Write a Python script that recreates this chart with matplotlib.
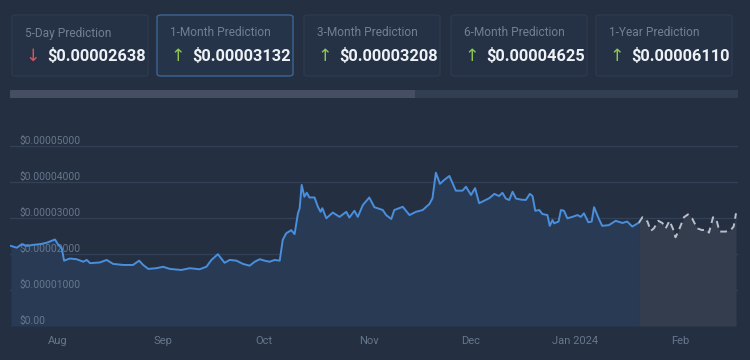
import numpy as np
import matplotlib
matplotlib.use("Agg")
import matplotlib.pyplot as plt
import matplotlib.dates as mdates
from matplotlib.patches import FancyBboxPatch, Rectangle

# ---------------- data ----------------
card_titles = ["5-Day Prediction", "1-Month Prediction", "3-Month Prediction",
               "6-Month Prediction", "1-Year Prediction"]
card_values = ["$0.00002638", "$0.00003132", "$0.00003208", "$0.00004625", "$0.00006110"]
card_up = [False, True, True, True, True]

base_date = "2023-08-01"
# days relative to 2023-08-01, prices in units of 1e-5 USD
hist_days = [-13.9, -12.2, -10.7, -9.2, -7.4, -5.3, -3.3, -0.9, 0.1, 1.1, 1.8, 3.5, 5.5,
             7.5, 8.5, 9.5, 12.4, 14.4, 16.3, 19.3, 22.2, 24.0, 25.2, 26.7, 29.1, 31.1,
             33.1, 36.5, 39.0, 41.9, 43.9, 45.4, 47.3, 49.3, 50.8, 52.8, 54.7, 56.7,
             58.2, 59.7, 61.1, 62.6, 64.1, 65.6, 66.5, 67.5, 69.0, 70.0, 71.0, 71.5,
             72.1, 72.9, 73.6, 74.4, 75.9, 76.9, 77.7, 78.2, 79.4, 81.3, 83.3, 85.3,
             86.2, 87.7, 88.7, 90.2, 92.1, 93.6, 96.1, 97.1, 98.6, 99.5, 102.0, 104.0,
             105.9, 107.9, 109.9, 110.8, 111.8, 113.0, 114.3, 115.8, 117.7, 119.7,
             120.7, 122.2, 123.4, 124.6, 126.1, 127.6, 129.1, 130.5, 131.5, 132.5,
             133.5, 134.5, 135.5, 137.0, 138.4, 139.6, 140.4, 141.2, 142.4, 143.3,
             144.8, 145.5, 146.3, 146.8, 148.1, 148.8, 149.7, 150.7, 152.2, 153.7,
             154.7, 155.6, 156.9, 157.9, 158.6, 160.1, 161.0, 163.0, 165.0, 167.0,
             168.4, 169.9, 171.9]
hist_vals = [2.23, 2.18, 2.28, 2.23, 2.26, 2.28, 2.32, 2.41, 2.26, 2.17, 1.82, 1.88, 1.86,
             1.79, 1.84, 1.75, 1.77, 1.84, 1.73, 1.70, 1.70, 1.82, 1.70, 1.59, 1.61, 1.65,
             1.59, 1.56, 1.61, 1.58, 1.65, 1.84, 2.00, 1.76, 1.84, 1.82, 1.73, 1.68,
             1.79, 1.86, 1.82, 1.79, 1.84, 1.82, 2.40, 2.58, 2.67, 2.56, 3.14, 3.28,
             3.93, 3.60, 3.71, 3.58, 3.58, 3.32, 3.18, 3.28, 3.00, 3.16, 3.04, 3.18,
             3.02, 3.21, 3.04, 3.37, 3.58, 3.31, 3.23, 3.09, 2.98, 3.23, 3.32, 3.09,
             3.18, 3.23, 3.40, 3.56, 4.27, 3.96, 4.07, 4.18, 3.77, 3.77,
             3.88, 3.65, 3.84, 3.42, 3.49, 3.56, 3.68, 3.62, 3.71, 3.55,
             3.51, 3.74, 3.55, 3.52, 3.51, 3.68, 3.62, 3.21, 3.23, 3.12,
             3.09, 2.79, 2.95, 2.86, 2.91, 3.23, 3.21, 3.00, 3.04, 3.09,
             3.04, 3.14, 2.89, 2.91, 3.31, 2.97, 2.79, 2.81, 2.93, 2.87,
             2.91, 2.77, 2.88]
pred_days = [171.9, 172.9, 174.4, 175.4, 176.3, 177.6, 178.8, 179.8, 180.9, 181.9, 182.7,
             183.7, 185.2, 186.4, 187.6, 189.1, 190.6, 191.8, 192.6, 193.8, 194.8, 195.7,
             197.5, 199.0, 199.9, 200.6]
pred_vals = [2.88, 3.03, 2.91, 2.65, 2.72, 2.93, 2.87, 2.72, 2.93, 2.72, 2.47,
             2.67, 3.03, 3.11, 3.00, 2.72, 2.67, 2.69, 2.60, 3.03, 2.97, 2.63,
             2.63, 2.67, 2.77, 3.14]

tick_dates = ["2023-08-01", "2023-09-01", "2023-10-01", "2023-11-01", "2023-12-01",
              "2024-01-01", "2024-02-01"]
tick_labels = ["Aug", "Sep", "Oct", "Nov", "Dec", "Jan 2024", "Feb"]
ytick_vals = [0, 1e-5, 2e-5, 3e-5, 4e-5, 5e-5]
ytick_labels = ["$0.00", "$0.00001000", "$0.00002000", "$0.00003000", "$0.00004000",
                "$0.00005000"]

# ---------------- style ----------------
BG = "#243042"
GRID = "#324058"
TXT = "#66768c"
FONT = ["Roboto", "DejaVu Sans"]
plt.rcParams["font.family"] = FONT

W, H = 750, 360
fig = plt.figure(figsize=(W / 100, H / 100), dpi=100, facecolor=BG)

def px(x, y):
    return x / W, 1 - y / H

# ---------------- cards ----------------
card_lefts = [12, 157, 304, 451, 596]
card_w = 136
for i, left in enumerate(card_lefts):
    x0, y1 = px(left, 76)
    w = card_w / W
    h = 61 / H
    hl = (i == 1)
    box = FancyBboxPatch((x0, y1), w, h, boxstyle="round,pad=0,rounding_size=0.006",
                         transform=fig.transFigure, facecolor="#253246" if not hl else "#263449",
                         edgecolor="#3b6594" if hl else "#2d3a4e", linewidth=1.0)
    fig.patches.append(box)
    tx, ty = px(left + 13, 33)
    fig.text(tx, ty, card_titles[i], color="#717f94", fontsize=8.6, va="center", ha="left")
    ax_, ay_ = px(left + 21, 56)
    fig.text(ax_, ay_, "↑" if card_up[i] else "↓",
             color="#8dc453" if card_up[i] else "#e0505c",
             fontsize=12.5, va="center", ha="center", family=["DejaVu Sans"])
    vx, vy = px(left + 35, 56)
    fig.text(vx, vy, card_values[i], color="#eef1f5", fontsize=11.8,
             fontweight="bold", va="center", ha="left")

# scrollbar
sx, sy = px(10, 98)
fig.patches.append(Rectangle((sx, sy), (738 - 10) / W, 8 / H, transform=fig.transFigure,
                             facecolor="#323e51", edgecolor="none"))
fig.patches.append(Rectangle((sx, sy), (415 - 10) / W, 8 / H, transform=fig.transFigure,
                             facecolor="#454e62", edgecolor="none"))

# ---------------- chart ----------------
left, right = 10, 737.7
bottom_px, top_px = 326, 110.6
ax = fig.add_axes([left / W, 1 - bottom_px / H, (right - left) / W, (bottom_px - top_px) / H])
ax.set_facecolor("none")
for s in ax.spines.values():
    s.set_visible(False)

b = mdates.date2num(np.datetime64(base_date))
hx = b + np.array(hist_days)
hy = np.array(hist_vals) * 1e-5
pxd = b + np.array(pred_days)
py = np.array(pred_vals) * 1e-5

ax.set_xlim(b - 14.2, b + 201.1)
ax.set_ylim(0, 6e-5)

for v in ytick_vals:
    ax.axhline(v, color=GRID, lw=0.9, zorder=0)

ax.fill_between(hx, 0, hy, color="#293b54", lw=0, zorder=1)
ax.fill_between(pxd, 0, py, color="#333d4d", lw=0, zorder=1)
ax.plot(hx, hy, color="#4a8fde", lw=1.4, zorder=3, solid_joinstyle="round")
ax.plot(pxd, py, color="#b9bfc9", lw=1.4, ls=(0, (3.5, 2.5)), zorder=3)

for v, lab in zip(ytick_vals, ytick_labels):
    ax.annotate(lab, xy=(0, v), xycoords=("axes fraction", "data"),
                xytext=(7, 4), textcoords="offset points",
                color=TXT, fontsize=7.4, ha="left", va="center", zorder=2)
ax.set_yticks([])

ax.set_xticks(mdates.date2num(np.array(tick_dates, dtype="datetime64[D]")))
ax.set_xticklabels(tick_labels)
ax.tick_params(axis="x", length=0, colors=TXT, labelsize=8, pad=7)

fig.savefig("out.png", dpi=100, facecolor=BG)
